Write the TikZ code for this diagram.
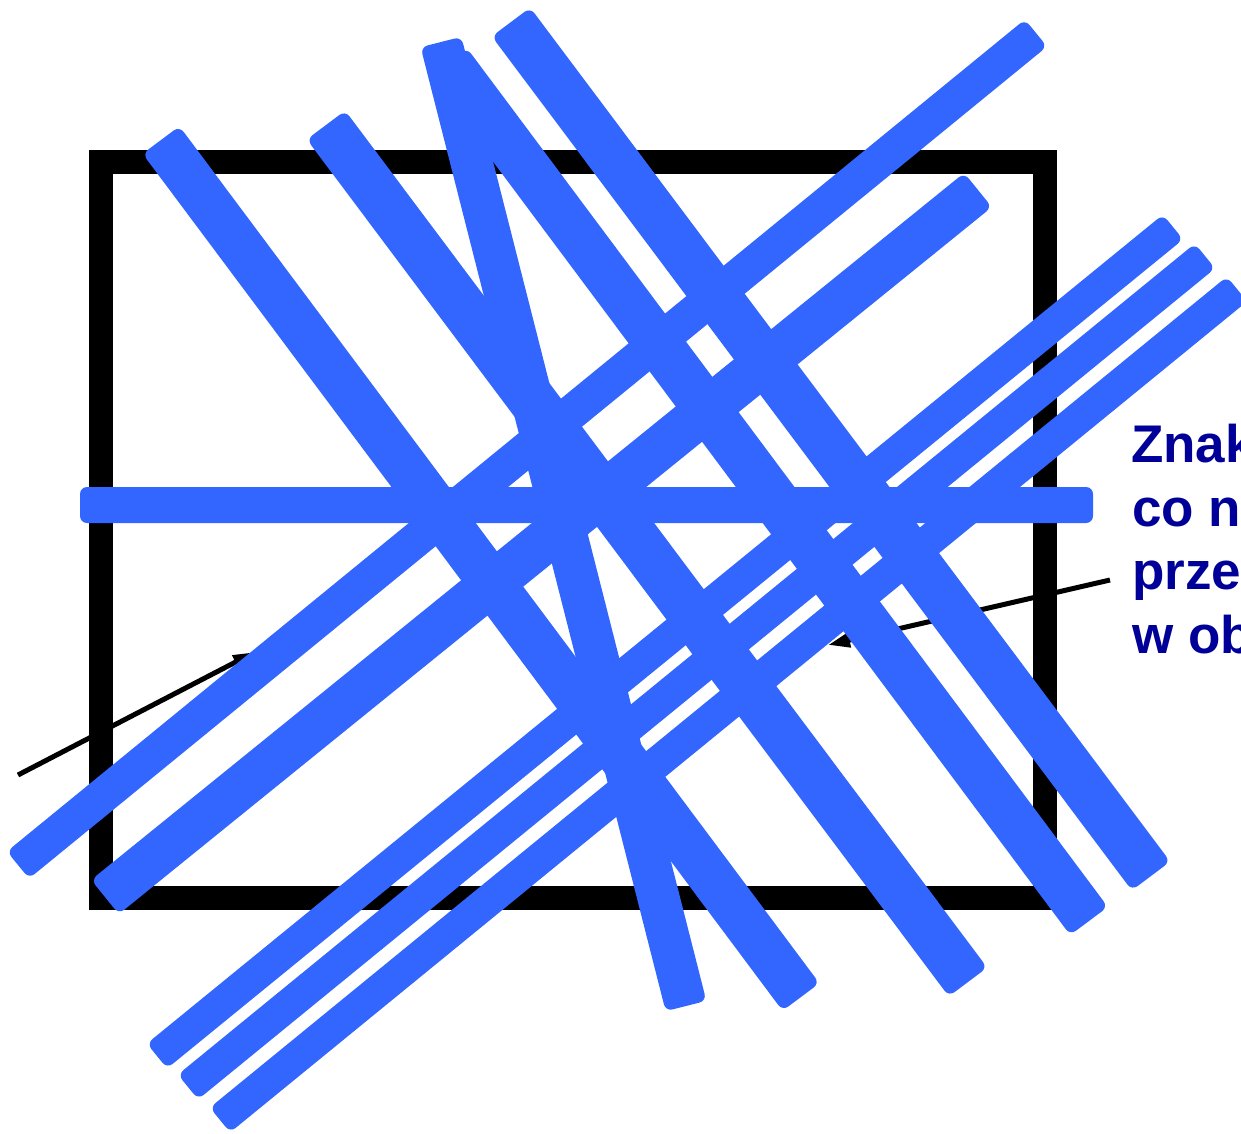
\documentclass[tikz,border=0pt]{standalone}
\usepackage{fontspec}
\setmainfont{Liberation Sans}
\usetikzlibrary{calc,arrows.meta}
\definecolor{stripblue}{HTML}{3366FF}
\definecolor{textblue}{HTML}{000099}
\tikzset{
  bluestrip/.style={fill=stripblue, rounded corners=7pt},
  frame/.style={draw=black, line width=24pt},
  pointer/.style={draw=black, line width=5pt, -{Triangle[length=22pt,width=14pt]}},
  label/.style={text=textblue, font=\fontsize{53}{64}\selectfont\bfseries, anchor=base west, inner sep=0pt}
}
\newcommand\bstrip[3]{%
  \fill[bluestrip] ($#1!#3!90:#2$) -- ($#1!#3!-90:#2$) -- ($#2!#3!90:#1$) -- ($#2!#3!-90:#1$) -- cycle;}
\begin{document}
\begin{tikzpicture}[x=1pt,y=-1pt]
\useasboundingbox (0,0) rectangle (1241,1134);
% frame
\draw[frame] (101,162) rectangle (1045,898);
% label text
\node[label] (t1) at (1131,462) {Znak};
\node[label] (t2) at (1132,526) {co n};
\node[label] (t3) at (1132,589) {prze};
\node[label] (t4) at (1132,653) {w ob};
% pointers
\coordinate (p1s) at (18,775);
\coordinate (p1e) at (255,652);
\coordinate (p2s) at (1110,580);
\coordinate (p2e) at (828,645);
\draw[pointer] (p1s) -- (p1e);
\draw[pointer] (p2s) -- (p2e);
% blue strips
\bstrip{(80,505)}{(1093,505)}{18pt}
\bstrip{(161,140)}{(801,997)}{23pt}
\bstrip{(326,125)}{(968,982)}{24pt}
\bstrip{(448,62)}{(1089,921)}{23.5pt}
\bstrip{(511,22)}{(1151,876)}{24pt}
\bstrip{(441,42)}{(686,1006)}{21pt}
\bstrip{(1036,33)}{(18,865)}{17.5pt}
\bstrip{(978,190)}{(105,897)}{22pt}
\bstrip{(1173,227)}{(157,1056)}{16pt}
\bstrip{(1205,256)}{(188,1087)}{16pt}
\bstrip{(1237,289)}{(220,1120)}{16pt}
\end{tikzpicture}
\end{document}
